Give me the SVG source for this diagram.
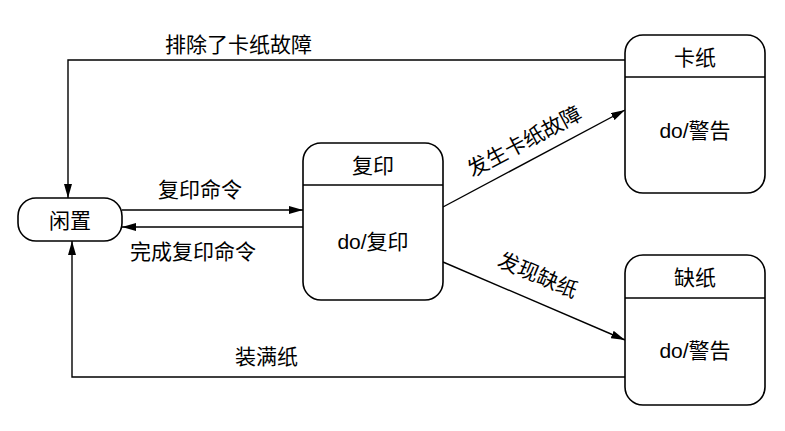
<svg xmlns="http://www.w3.org/2000/svg" width="785" height="431" viewBox="0 0 785 431">
<style>
.n{fill:#fff;stroke:#000;stroke-width:1.6}
.l{stroke:#000;stroke-width:1.4;fill:none}
text{font-family:"Liberation Sans","Noto Sans CJK SC",sans-serif;font-size:21px;fill:#000}
</style>
<defs><marker id="a" markerWidth="14" markerHeight="8" refX="14" refY="4" orient="auto" markerUnits="userSpaceOnUse"><path d="M0,0L14,4L0,8z" fill="#000"/></marker></defs>
<rect width="785" height="431" fill="#fff"/>
<g id="connectors">
<path class="l" d="M625,60H68V198" marker-end="url(#a)"/>
<path class="l" d="M122,210H303" marker-end="url(#a)"/>
<path class="l" d="M303,227H122" marker-end="url(#a)"/>
<path class="l" d="M443,207L625,110" marker-end="url(#a)"/>
<path class="l" d="M443,262L625,340" marker-end="url(#a)"/>
<path class="l" d="M625,377H72V241" marker-end="url(#a)"/>
<text x="165" y="52">排除了卡纸故障</text>
<text x="158" y="197">复印命令</text>
<text x="130" y="259">完成复印命令</text>
<text transform="translate(528,148) rotate(-28)" text-anchor="middle">发生卡纸故障</text>
<text transform="translate(535,282) rotate(23)" text-anchor="middle">发现缺纸</text>
<text x="235" y="364">装满纸</text>
</g>
<g id="idle"><rect class="n" x="18" y="198" width="104" height="43" rx="18"/><text x="70" y="228" text-anchor="middle">闲置</text></g>
<g id="copy"><rect class="n" x="303" y="143" width="140" height="157" rx="18"/><path class="l" d="M303,185H443"/><text x="373" y="173" text-anchor="middle">复印</text><text x="373" y="249" text-anchor="middle">do/复印</text></g>
<g id="jam"><rect class="n" x="625" y="35" width="140" height="158" rx="18"/><path class="l" d="M625,77H765"/><text x="695" y="65" text-anchor="middle">卡纸</text><text x="695" y="138" text-anchor="middle">do/警告</text></g>
<g id="nopaper"><rect class="n" x="625" y="255" width="140" height="150" rx="18"/><path class="l" d="M625,298H765"/><text x="695" y="285" text-anchor="middle">缺纸</text><text x="695" y="358" text-anchor="middle">do/警告</text></g>
</svg>
